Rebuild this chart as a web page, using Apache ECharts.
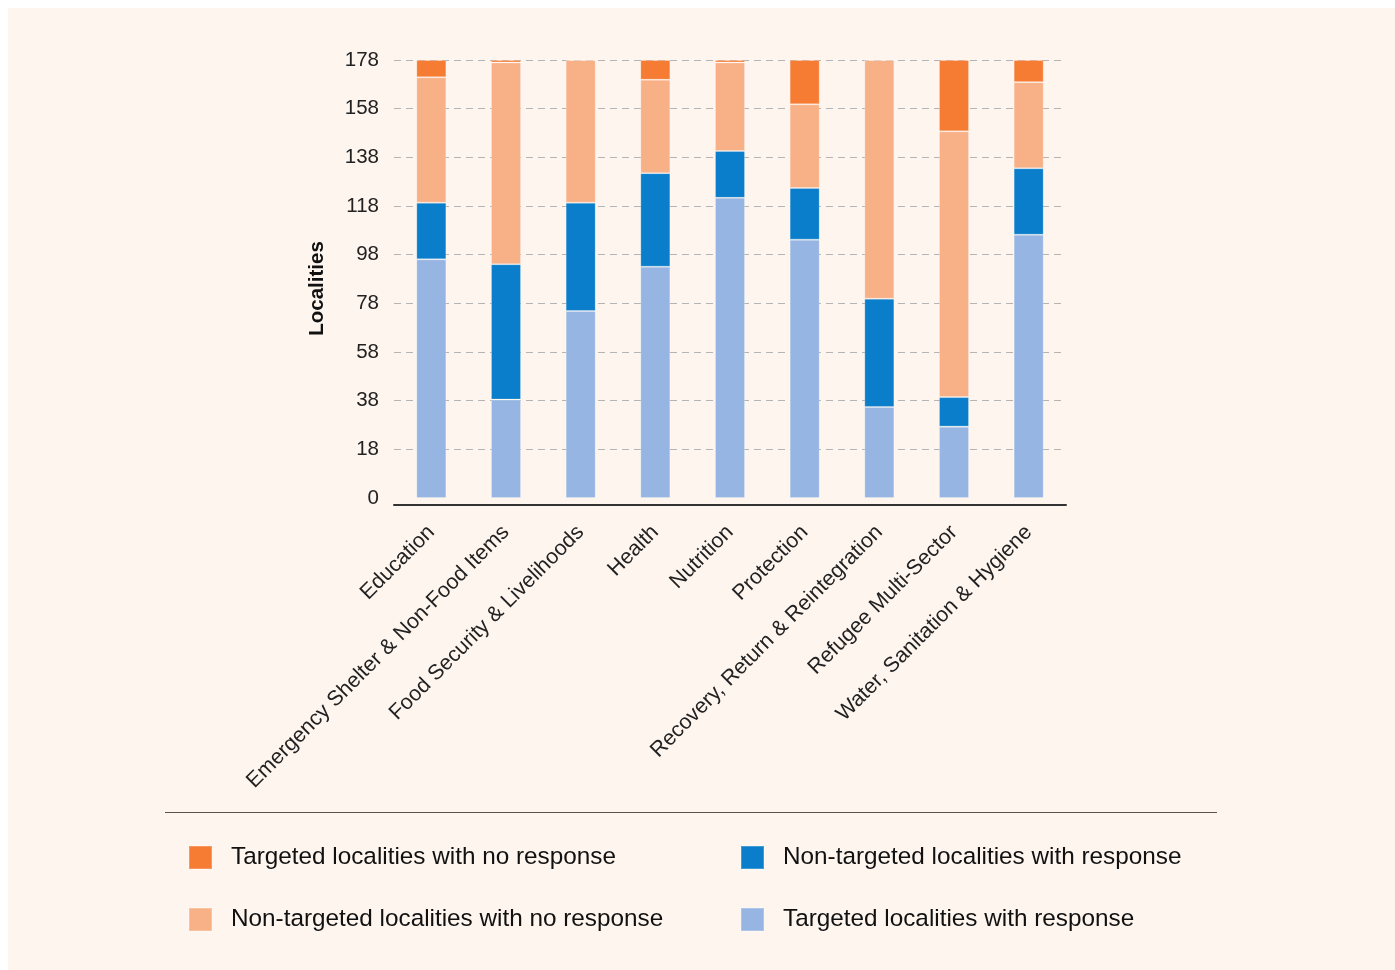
<!DOCTYPE html>
<html>
<head>
<meta charset="utf-8">
<script src="https://cdn.jsdelivr.net/npm/echarts@6/dist/echarts.min.js"></script>
<style>
  html, body { margin: 0; padding: 0; background: #ffffff; }
  #panel { position: absolute; left: 8px; top: 8px; width: 1387px; height: 962px; background: #FEF5EF; }
  #chart { position: absolute; left: 0; top: 0; width: 1395px; height: 970px; }
</style>
</head>
<body>
<div id="panel"></div>
<div id="chart"></div>
<script>
// ---- data ----
var categories = [
  'Education',
  'Emergency Shelter & Non-Food Items',
  'Food Security & Livelihoods',
  'Health',
  'Nutrition',
  'Protection',
  'Recovery, Return & Reintegration',
  'Refugee Multi-Sector',
  'Water, Sanitation & Hygiene'
];
var targetedWithResponse       = [97, 40, 76, 94, 122, 105, 37, 29, 107];
var nonTargetedWithResponse    = [23, 55, 44, 38, 19, 21, 44, 12, 27];
var nonTargetedNoResponse      = [51, 82, 58, 38, 36, 34, 97, 108, 35];
var targetedNoResponse         = [7, 1, 0, 8, 1, 18, 0, 29, 9];
var yTickLabels = ['0', '18', '38', '58', '78', '98', '118', '138', '158', '178'];
var yMax = 178;

var seriesNames = {
  tr: 'Targeted localities with response',
  ntr: 'Non-targeted localities with response',
  ntnr: 'Non-targeted localities with no response',
  tnr: 'Targeted localities with no response'
};
var colors = {
  tr: '#97B5E2',
  ntr: '#0A7ECB',
  ntnr: '#F8B187',
  tnr: '#F67B33'
};

var FONT = '"Liberation Sans", Arial, Helvetica, sans-serif';
var tickStep = yMax / (yTickLabels.length - 1);
var interval = Math.ceil(tickStep * 100) / 100;

function barSeries(key, values) {
  return {
    name: seriesNames[key],
    type: 'bar',
    stack: 'total',
    barWidth: 30,
    data: values,
    itemStyle: {
      color: colors[key],
      borderColor: 'rgba(255,255,255,0.22)',
      borderWidth: 1
    },
    emphasis: { disabled: true }
  };
}

var legendText = { fontSize: 24.3, color: '#111111', fontFamily: FONT, lineHeight: 23, padding: [0, 0, 0, 14] };

var chart = echarts.init(document.getElementById('chart'), null, { renderer: 'canvas' });
chart.setOption({
  backgroundColor: 'transparent',
  animation: false,
  textStyle: { fontFamily: FONT },
  grid: { left: 394, right: 329, top: 60, bottom: 472, containLabel: false },
  xAxis: {
    type: 'category',
    data: categories,
    offset: 7,
    axisLine: { show: true, onZero: false, lineStyle: { color: '#333333', width: 2 } },
    axisTick: { show: false },
    splitLine: { show: false },
    axisLabel: {
      interval: 0,
      rotate: 45,
      margin: 24,
      fontSize: 21.4,
      color: '#222222',
      fontFamily: FONT
    }
  },
  yAxis: {
    type: 'value',
    min: 0,
    max: yMax,
    interval: interval,
    name: 'Localities',
    nameLocation: 'middle',
    nameGap: 66,
    nameTextStyle: {
      fontSize: 20.5,
      fontWeight: 'bold',
      color: '#111111',
      fontFamily: FONT,
      padding: [0, 19, 0, 0]
    },
    axisLine: { show: false },
    axisTick: { show: false },
    splitLine: {
      show: true,
      showMinLine: false,
      lineStyle: { color: '#B4B4B4', type: [7, 5], width: 1.2 }
    },
    axisLabel: {
      margin: 15,
      fontSize: 20.5,
      color: '#222222',
      fontFamily: FONT,
      formatter: function (v) {
        return yTickLabels[Math.round(v / interval)];
      }
    }
  },
  legend: [
    {
      left: 183,
      top: 840,
      orient: 'vertical',
      itemWidth: 23,
      itemHeight: 23,
      itemGap: 37,
      icon: 'rect',
      selectedMode: false,
      textStyle: legendText,
      data: [seriesNames.tnr, seriesNames.ntnr]
    },
    {
      left: 735,
      top: 840,
      orient: 'vertical',
      itemWidth: 23,
      itemHeight: 23,
      itemGap: 37,
      icon: 'rect',
      selectedMode: false,
      textStyle: legendText,
      data: [seriesNames.ntr, seriesNames.tr]
    }
  ],
  graphic: [
    {
      type: 'line',
      silent: true,
      shape: { x1: 165, y1: 812.5, x2: 1217, y2: 812.5 },
      style: { stroke: '#5A514B', lineWidth: 1 }
    }
  ],
  series: [
    barSeries('tr', targetedWithResponse),
    barSeries('ntr', nonTargetedWithResponse),
    barSeries('ntnr', nonTargetedNoResponse),
    barSeries('tnr', targetedNoResponse)
  ]
});
</script>
</body>
</html>
